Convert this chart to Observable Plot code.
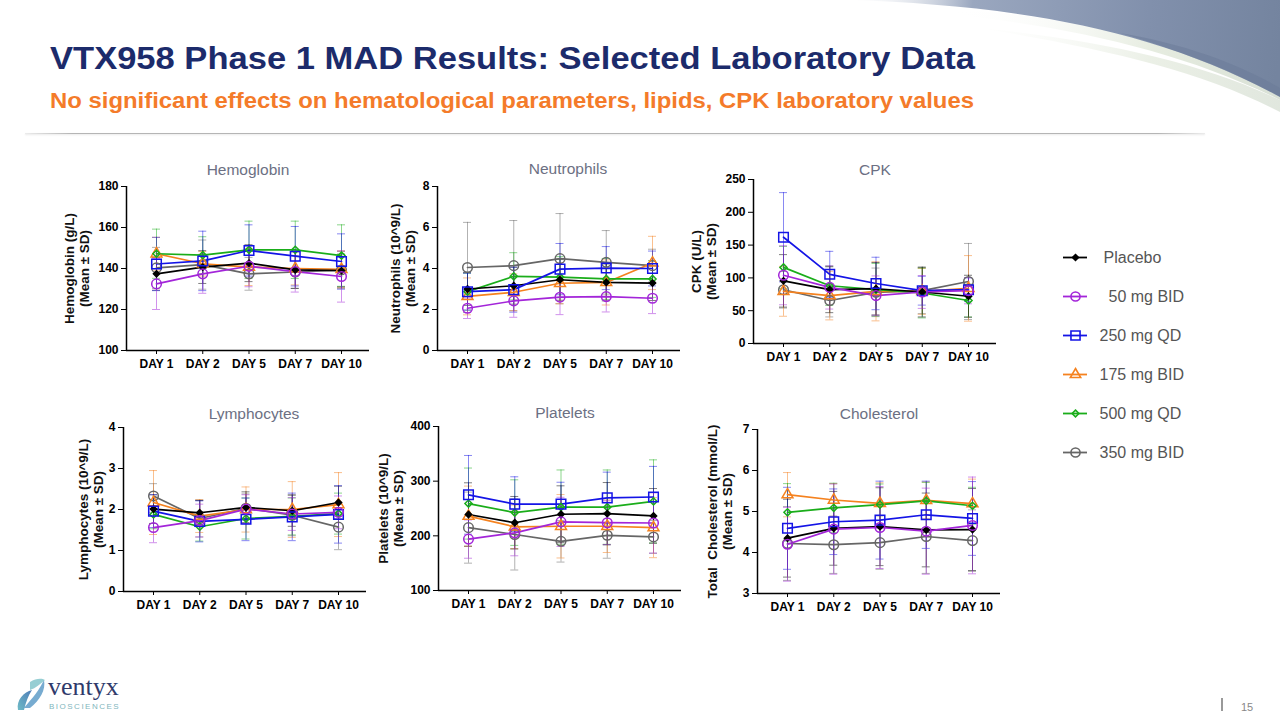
<!DOCTYPE html>
<html>
<head>
<meta charset="utf-8">
<script src="https://cdn.jsdelivr.net/npm/d3@7"></script>
<script src="https://cdn.jsdelivr.net/npm/@observablehq/plot@0.6"></script>
<style>
html,body{margin:0;padding:0;background:#fff;}
#slide{position:relative;width:1280px;height:719px;overflow:hidden;background:#fff;font-family:"Liberation Sans",Arial,sans-serif;}
.abs{position:absolute;}
#sep{position:absolute;left:25px;top:133px;width:1180px;height:1px;background:linear-gradient(to right,rgba(160,160,160,0.2),#b5b5b5 4%,#b5b5b5 96%,rgba(160,160,160,0.2));box-shadow:0 1px 2px rgba(0,0,0,0.12);}
</style>
</head>
<body>
<div id="slide">
  <svg class="abs" style="left:0;top:0" width="1280" height="140">
    <defs>
      <linearGradient id="slate" x1="840" y1="0" x2="1280" y2="40" gradientUnits="userSpaceOnUse">
        <stop offset="0" stop-color="#ffffff" stop-opacity="0"/>
        <stop offset="0.3" stop-color="#9aa7bf"/>
        <stop offset="0.7" stop-color="#8190ac"/>
        <stop offset="1" stop-color="#74849f"/>
      </linearGradient>
      <linearGradient id="pale" x1="950" y1="20" x2="1280" y2="100" gradientUnits="userSpaceOnUse">
        <stop offset="0" stop-color="#ffffff" stop-opacity="0"/>
        <stop offset="0.6" stop-color="#e6ece0"/>
        <stop offset="1" stop-color="#d9e1d6"/>
      </linearGradient>
    </defs>
    <path d="M 900 10 C 1040 20, 1170 45, 1280 100 L 1280 97 C 1150 25, 1000 5, 900 10 Z" fill="url(#pale)"/>
    <path d="M 980 28 C 1100 40, 1200 62, 1280 100 L 1280 112 C 1200 70, 1100 48, 980 28 Z" fill="url(#pale)" opacity="0.8"/>
    <path d="M 850 0 C 1000 5, 1150 25, 1280 97 L 1280 0 Z" fill="url(#slate)"/>
    <path d="M 1120 33 C 1180 50, 1240 75, 1280 97 L 1280 88 C 1240 65, 1190 45, 1120 33 Z" fill="#6a7a98" opacity="0.5"/>
    <text x="50" y="69" font-family="Liberation Sans, Arial, sans-serif" font-size="32" font-weight="bold" fill="#1c2b6b" textLength="925" lengthAdjust="spacingAndGlyphs">VTX958 Phase 1 MAD Results: Selected Laboratory Data</text>
    <text x="50" y="108" font-family="Liberation Sans, Arial, sans-serif" font-size="22" font-weight="bold" fill="#f47b2a" textLength="924" lengthAdjust="spacingAndGlyphs">No significant effects on hematological parameters, lipids, CPK laboratory values</text>
  </svg>
  <div id="sep"></div>
  <div id="charts"></div>
  <svg class="abs" style="left:0;top:670px" width="1280" height="49">
    <defs>
      <linearGradient id="swirl" x1="0" y1="1" x2="1" y2="0">
        <stop offset="0" stop-color="#5fb3c0"/>
        <stop offset="1" stop-color="#3b6fb0"/>
      </linearGradient>
    </defs>
    <path d="M 18 40 C 16 30, 24 22, 32 20 C 28 26, 26 32, 24 40 Z" fill="url(#swirl)" opacity="0.9"/>
    <path d="M 24 38 C 30 30, 36 26, 44 10 C 46 20, 40 30, 30 38 Z" fill="#4a8fc0" opacity="0.75"/>
    <path d="M 30 12 C 36 8, 42 8, 45 10 C 40 14, 36 18, 30 20 Z" fill="#7cc2c8" opacity="0.8"/>
    <text x="48" y="25" font-family="Liberation Serif, serif" font-size="26" fill="#2f3a6b">ventyx</text>
    <text x="49" y="39" font-family="Liberation Sans, Arial, sans-serif" font-size="8" letter-spacing="1.5" fill="#7fb6bd">BIOSCIENCES</text>
    <line x1="1222" y1="28" x2="1222" y2="41" stroke="#999" stroke-width="2"/>
    <text x="1241" y="41" font-family="Liberation Sans, Arial, sans-serif" font-size="11" fill="#888">15</text>
  </svg>
</div>
<script>
// ---- categories ----
const days = ["DAY 1", "DAY 2", "DAY 5", "DAY 7", "DAY 10"];
const groups = ["Placebo", "50 mg BID", "250 mg QD", "175 mg BID", "500 mg QD", "350 mg BID"];

// ---- series values (rows follow `groups`, columns follow `days`) ----
const hemoglobinMean = [
  [137.4, 140.7, 142.6, 139.3, 139.0],
  [132.5, 137.4, 141.1, 138.5, 136.1],
  [142.2, 143.7, 148.8, 146.0, 143.4],
  [147.2, 142.3, 140.7, 140.0, 139.6],
  [147.2, 146.5, 149.1, 149.1, 146.3],
  [140.3, 141.9, 137.4, 138.3, 139.3]
];
const hemoglobinSD = [
  [8, 8, 9, 9, 8],
  [12.5, 9.5, 10, 10, 12.5],
  [13, 14.5, 12.5, 14.5, 13.5],
  [8, 6, 9, 8, 9],
  [12, 9, 14, 14, 15],
  [10, 12, 8, 8, 9]
];
const neutrophilsMean = [
  [3.0, 3.16, 3.45, 3.32, 3.29],
  [2.06, 2.42, 2.6, 2.63, 2.55],
  [2.87, 2.97, 3.97, 4.02, 4.0],
  [2.64, 2.84, 3.28, 3.32, 4.27],
  [2.87, 3.62, 3.58, 3.49, 3.49],
  [4.05, 4.14, 4.48, 4.3, 4.14]
];
const neutrophilsSD = [
  [0.8, 0.9, 1.0, 0.9, 0.85],
  [0.5, 0.8, 0.85, 0.75, 0.75],
  [0.9, 1.1, 1.25, 1.05, 0.85],
  [0.9, 0.9, 1.0, 1.1, 1.3],
  [0.9, 1.15, 1.0, 1.0, 0.9],
  [2.2, 2.2, 2.2, 1.55, 0.8]
];
const cpkMean = [
  [95.5, 82, 83.5, 78.5, 72],
  [104, 85.5, 73, 78.5, 80.5],
  [162, 105.5, 91.5, 80.5, 82],
  [79.5, 73, 79.5, 79.5, 84],
  [116, 88, 82, 77, 65.5],
  [82, 65.5, 78, 80.5, 94.5]
];
const cpkSD = [
  [40, 35, 40, 38, 32],
  [45, 33, 30, 25, 20],
  [68, 35, 40, 22, 18],
  [38, 37, 45, 35, 50],
  [32, 30, 40, 38, 25],
  [28, 25, 37, 35, 58]
];
const lymphocytesMean = [
  [2.01, 1.92, 2.05, 1.97, 2.17],
  [1.56, 1.73, 2.01, 1.89, 1.93],
  [1.96, 1.71, 1.76, 1.82, 1.88],
  [2.17, 1.84, 2.0, 2.0, 2.12],
  [1.88, 1.58, 1.78, 1.83, 1.9],
  [2.33, 1.78, 2.03, 1.86, 1.57]
];
const lymphocytesSD = [
  [0.35, 0.3, 0.38, 0.38, 0.4],
  [0.37, 0.4, 0.35, 0.4, 0.4],
  [0.4, 0.5, 0.52, 0.58, 0.7],
  [0.78, 0.4, 0.55, 0.68, 0.78],
  [0.35, 0.35, 0.5, 0.45, 0.5],
  [0.3, 0.45, 0.35, 0.5, 0.55]
];
const plateletsMean = [
  [239, 224, 239.5, 240.5, 236.5],
  [194, 205.5, 225.5, 224, 223.5],
  [275, 258, 258, 269.5, 271],
  [236, 216.5, 217.5, 217.5, 215],
  [259, 242.5, 252.5, 252.5, 263],
  [215, 202.5, 190, 201, 198]
];
const plateletsSD = [
  [58, 48, 52, 57, 50],
  [35, 42, 45, 40, 55],
  [72, 50, 40, 47, 56],
  [55, 40, 58, 48, 55],
  [65, 60, 68, 68, 76],
  [65, 65, 38, 42, 30]
];
const cholesterolMean = [
  [4.35, 4.59, 4.63, 4.55, 4.56],
  [4.2, 4.57, 4.61, 4.52, 4.66],
  [4.59, 4.75, 4.79, 4.92, 4.83],
  [5.41, 5.28, 5.2, 5.27, 5.19],
  [4.98, 5.09, 5.17, 5.26, 5.14],
  [4.22, 4.19, 4.24, 4.39, 4.29]
];
const cholesterolSD = [
  [0.95, 0.9, 0.95, 0.9, 1.0],
  [0.9, 1.1, 1.0, 1.05, 1.18],
  [1.0, 0.8, 0.95, 0.82, 0.9],
  [0.54, 0.4, 0.5, 0.45, 0.6],
  [0.7, 0.6, 0.5, 0.45, 0.45],
  [0.9, 0.7, 0.65, 0.9, 0.75]
];

// ---- tick labels / axis domains ----
const hemoglobinTicks = [100, 120, 140, 160, 180];
const neutrophilsTicks = [0, 2, 4, 6, 8];
const cpkTicks = [0, 50, 100, 150, 200, 250];
const lymphocytesTicks = [0, 1, 2, 3, 4];
const plateletsTicks = [100, 200, 300, 400];
const cholesterolTicks = [3, 4, 5, 6, 7];

// ---- styles (not data) ----
const groupColor = ["#000000", "#a325d9", "#1414e6", "#f5821f", "#1aad1a", "#666666"];
const groupSymbol = ["diamond2", "circle", "square", "triangle2", "diamond2", "circle"];
const groupR = [2.8, 4.8, 5.4, 5.2, 3.2, 4.8];
const groupFill = ["#000000", "none", "none", "none", "none", "none"];
const drawOrder = [5, 3, 4, 0, 2, 1];
const legendIndent = [16, 21, 12, 12, 12, 12];
const FONT = "Liberation Sans, Arial, sans-serif";

const panels = [
  {title: "Hemoglobin", label: "Hemoglobin (g/L)\n(Mean ± SD)", mean: hemoglobinMean, sd: hemoglobinSD, ticks: hemoglobinTicks,
   left: 46, top: 156, titleY: 170, titleDx: 0, labelDx: -50},
  {title: "Neutrophils", label: "Neutrophils (10^9/L)\n(Mean ± SD)", mean: neutrophilsMean, sd: neutrophilsSD, ticks: neutrophilsTicks,
   left: 357, top: 156, titleY: 169, titleDx: 9, labelDx: -35},
  {title: "CPK", label: "CPK (U/L)\n(Mean ± SD)", mean: cpkMean, sd: cpkSD, ticks: cpkTicks,
   left: 673, top: 149, titleY: 170, titleDx: 0, labelDx: -50},
  {title: "Lymphocytes", label: "Lymphocytes (10^9/L)\n(Mean ± SD)", mean: lymphocytesMean, sd: lymphocytesSD, ticks: lymphocytesTicks,
   left: 43, top: 397, titleY: 414, titleDx: 9, labelDx: -33},
  {title: "Platelets", label: "Platelets (10^9/L)\n(Mean ± SD)", mean: plateletsMean, sd: plateletsSD, ticks: plateletsTicks,
   left: 358, top: 396, titleY: 413, titleDx: 5, labelDx: -48},
  {title: "Cholesterol", label: "Total  Cholesterol (mmol/L)\n(Mean ± SD)", mean: cholesterolMean, sd: cholesterolSD, ticks: cholesterolTicks,
   left: 677, top: 399, titleY: 414, titleDx: 0, labelDx: -38}
];

const ML = 80, MR = 8, MT = 30, MB = 30, PW = 243, PH = 164;
const STEP = 46.25;
const xDom = [-30 / STEP, 4 + 28 / STEP];
const capHalf = 4 / STEP;

function panelPlot(p) {
  const domain = [p.ticks[0], p.ticks[p.ticks.length - 1]];
  const series = groups.map((g, gi) => days.map((d, di) => ({x: di, mean: p.mean[gi][di], sd: p.sd[gi][di]})));
  const marks = [];
  for (const gi of drawOrder) {
    const c = groupColor[gi];
    marks.push(Plot.ruleX(series[gi], {x: "x", y1: d => d.mean - d.sd, y2: d => d.mean + d.sd, stroke: c, strokeOpacity: 0.5, strokeWidth: 1}));
    marks.push(Plot.ruleY(series[gi], {y: d => d.mean - d.sd, x1: d => d.x - capHalf, x2: d => d.x + capHalf, stroke: c, strokeOpacity: 0.5, strokeWidth: 1}));
    marks.push(Plot.ruleY(series[gi], {y: d => d.mean + d.sd, x1: d => d.x - capHalf, x2: d => d.x + capHalf, stroke: c, strokeOpacity: 0.5, strokeWidth: 1}));
  }
  for (const gi of drawOrder) {
    marks.push(Plot.line(series[gi], {x: "x", y: "mean", stroke: groupColor[gi], strokeWidth: 1.7}));
  }
  for (const gi of drawOrder) {
    marks.push(Plot.dot(series[gi], {x: "x", y: "mean", symbol: groupSymbol[gi], r: groupR[gi], stroke: groupColor[gi], fill: groupFill[gi], strokeWidth: 1.5}));
  }
  marks.push(Plot.ruleY([domain[0]], {stroke: "#000", strokeWidth: 1.5}));
  marks.push(Plot.ruleX([xDom[0]], {stroke: "#000", strokeWidth: 1.5}));
  marks.push(Plot.text([p.title], {text: d => d, frameAnchor: "top", lineAnchor: "middle", textAnchor: "middle",
    dy: p.titleY - (p.top + MT), dx: p.titleDx, fontSize: 15.5, fontWeight: "normal", fill: "#6c7083"}));
  marks.push(Plot.text([p.label], {text: d => d, frameAnchor: "left", rotate: -90, textAnchor: "middle", lineAnchor: "middle",
    dx: p.labelDx, lineHeight: 1.12, fontSize: 13.5, fontWeight: "bold", fill: "#111"}));
  return Plot.plot({
    width: ML + PW + MR, height: MT + PH + MB,
    marginLeft: ML, marginRight: MR, marginTop: MT, marginBottom: MB,
    x: {type: "linear", domain: xDom, ticks: [0, 1, 2, 3, 4], tickFormat: i => days[i], tickSize: 4, tickPadding: 5, label: null},
    y: {domain, ticks: p.ticks, tickFormat: d => String(d), tickSize: 5, tickPadding: 3, label: null},
    style: {fontFamily: FONT, fontSize: "12px", fontWeight: "bold", color: "#000", background: "transparent", overflow: "visible"},
    marks
  });
}

function legendPlot() {
  const marks = [];
  groups.forEach((g, gi) => {
    const c = groupColor[gi];
    marks.push(Plot.ruleY([g], {y: d => d, x1: () => 0, x2: () => 1, stroke: c, strokeWidth: 1.8}));
    marks.push(Plot.dot([g], {y: d => d, x: () => 0.5, symbol: groupSymbol[gi], r: groupR[gi] * 0.95, stroke: c, fill: groupFill[gi], strokeWidth: 1.6}));
    marks.push(Plot.text([g], {y: d => d, x: () => 1, text: d => d, dx: legendIndent[gi], textAnchor: "start", fontSize: 16, fill: "#555"}));
  });
  return Plot.plot({
    width: 220, height: 232, margin: 0,
    x: {domain: [0, 1], range: [13, 37], axis: null},
    y: {type: "point", domain: groups, range: [17, 212], padding: 0, axis: null},
    style: {fontFamily: FONT, background: "transparent", overflow: "visible"},
    marks
  });
}

const host = document.getElementById("charts");
for (const p of panels) {
  const wrap = document.createElement("div");
  wrap.className = "abs";
  wrap.style.left = p.left + "px";
  wrap.style.top = p.top + "px";
  wrap.appendChild(panelPlot(p));
  host.appendChild(wrap);
}
const lg = document.createElement("div");
lg.className = "abs";
lg.style.left = "1050px";
lg.style.top = "240px";
lg.appendChild(legendPlot());
host.appendChild(lg);
</script>
</body>
</html>
